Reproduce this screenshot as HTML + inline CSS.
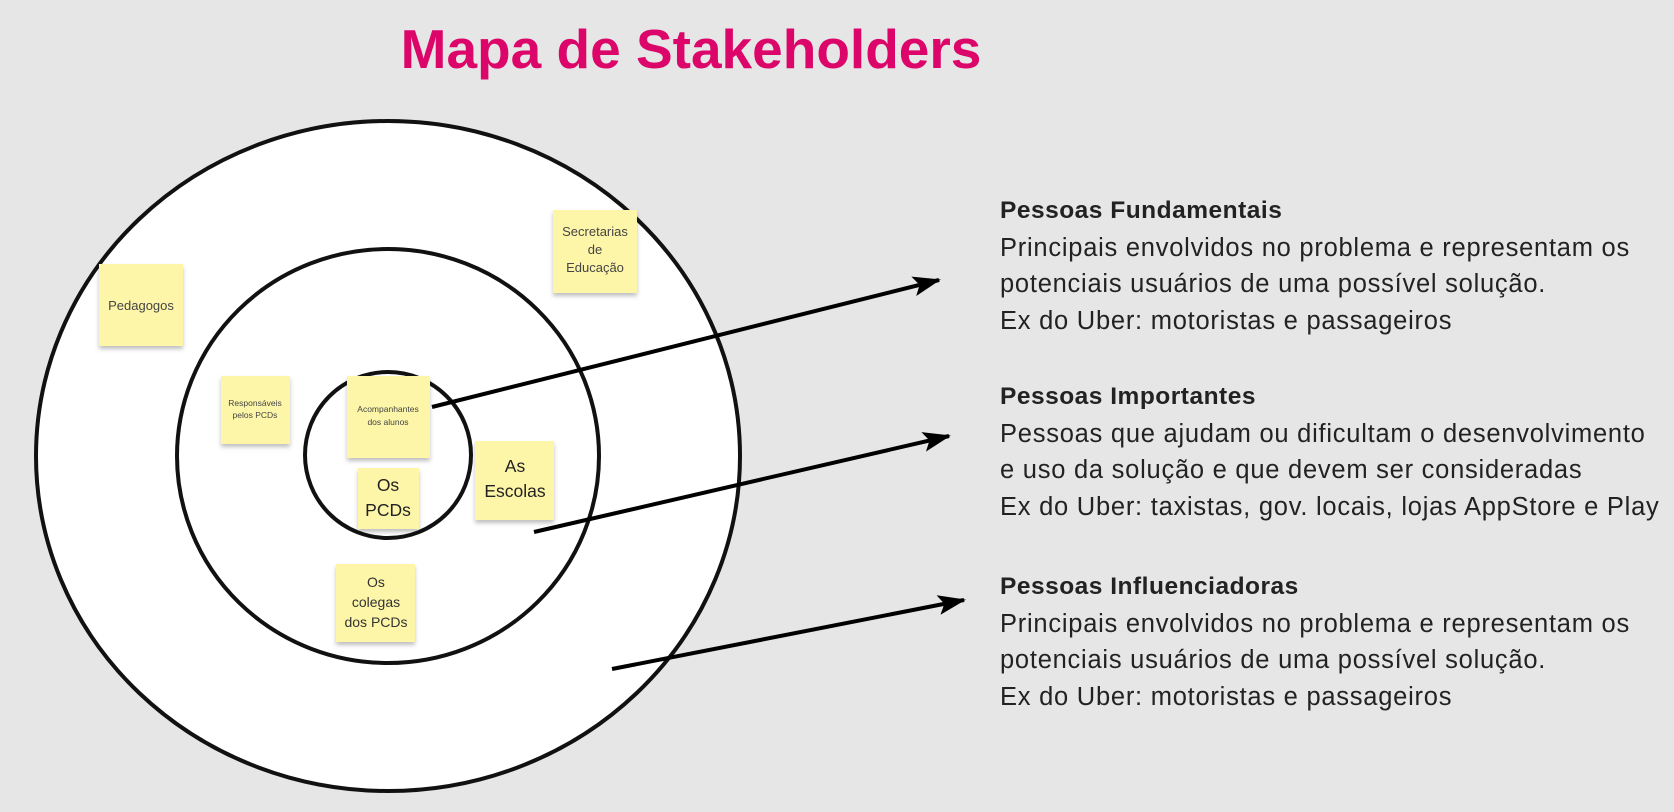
<!DOCTYPE html>
<html><head><meta charset="utf-8"><style>
body{margin:0;width:1674px;height:812px;background:#e6e6e6;overflow:hidden;font-family:"Liberation Sans",sans-serif}
svg{position:absolute;left:0;top:0}
.t{position:absolute;left:1000px;font-size:25.5px;color:#222;line-height:36.5px;letter-spacing:0.75px;white-space:nowrap}
.t b{font-weight:bold;font-size:24.5px;letter-spacing:0.5px}
</style></head><body>
<svg width="1674" height="812">
<defs>
<marker id="ah2" markerWidth="28" markerHeight="20" refX="26" refY="10" orient="auto" markerUnits="userSpaceOnUse"><path d="M0,0 L28,10 L0,20 L6,10 Z" fill="#000"/></marker>
<filter id="sh"><feDropShadow dx="0" dy="3" stdDeviation="2" flood-opacity="0.25"/></filter></defs>
<text x="691" y="68" text-anchor="middle" font-family="Liberation Sans, sans-serif" font-weight="bold" font-size="55" fill="#dc0569">Mapa de Stakeholders</text>
<ellipse cx="388" cy="456" rx="352" ry="335" fill="#fff" stroke="#111" stroke-width="4"/>
<ellipse cx="388" cy="456" rx="211" ry="207" fill="#fff" stroke="#111" stroke-width="4"/>
<ellipse cx="388" cy="455" rx="83" ry="83" fill="#fff" stroke="#111" stroke-width="4"/>
<g filter="url(#sh)" fill="#fdf6a9" font-family="Liberation Sans, sans-serif">
<g><rect x="99" y="264" width="84" height="82"/><text x="141" y="310" font-size="13" text-anchor="middle" fill="#444">Pedagogos</text></g>
<g><rect x="553" y="210" width="84" height="83"/><text text-anchor="middle" font-size="13" fill="#444"><tspan x="595" y="236">Secretarias</tspan><tspan x="595" y="254">de</tspan><tspan x="595" y="272">Educação</tspan></text></g>
<g><rect x="221" y="376" width="69" height="68"/><text text-anchor="middle" font-size="8.5" fill="#444"><tspan x="255" y="406">Responsáveis</tspan><tspan x="255" y="418">pelos PCDs</tspan></text></g>
<g><rect x="347" y="376" width="83" height="82"/><text text-anchor="middle" font-size="8.5" fill="#444"><tspan x="388" y="412">Acompanhantes</tspan><tspan x="388" y="425">dos alunos</tspan></text></g>
<g><rect x="358" y="468" width="61" height="61"/><text text-anchor="middle" font-size="17.5" fill="#222"><tspan x="388" y="491">Os</tspan><tspan x="388" y="516">PCDs</tspan></text></g>
<g><rect x="475" y="441" width="79" height="79"/><text text-anchor="middle" font-size="17.5" fill="#222"><tspan x="515" y="472">As</tspan><tspan x="515" y="497">Escolas</tspan></text></g>
<g><rect x="336" y="564" width="79" height="78"/><text text-anchor="middle" font-size="14" fill="#333"><tspan x="376" y="587">Os</tspan><tspan x="376" y="607">colegas</tspan><tspan x="376" y="627">dos PCDs</tspan></text></g>
</g>
<line x1="432" y1="407" x2="939" y2="280" stroke="#000" stroke-width="4" marker-end="url(#ah2)"/>
<line x1="534" y1="532" x2="949" y2="436" stroke="#000" stroke-width="4" marker-end="url(#ah2)"/>
<line x1="612" y1="669" x2="964" y2="600" stroke="#000" stroke-width="4" marker-end="url(#ah2)"/>
</svg>
<div class="t" style="top:192px"><b>Pessoas Fundamentais</b><br>Principais envolvidos no problema e representam os<br>potenciais usuários de uma possível solução.<br>Ex do Uber: motoristas e passageiros</div>
<div class="t" style="top:378px"><b>Pessoas Importantes</b><br>Pessoas que ajudam ou dificultam o desenvolvimento<br>e uso da solução e que devem ser consideradas<br>Ex do Uber: taxistas, gov. locais, lojas AppStore e Play</div>
<div class="t" style="top:568px"><b>Pessoas Influenciadoras</b><br>Principais envolvidos no problema e representam os<br>potenciais usuários de uma possível solução.<br>Ex do Uber: motoristas e passageiros</div>
</body></html>
